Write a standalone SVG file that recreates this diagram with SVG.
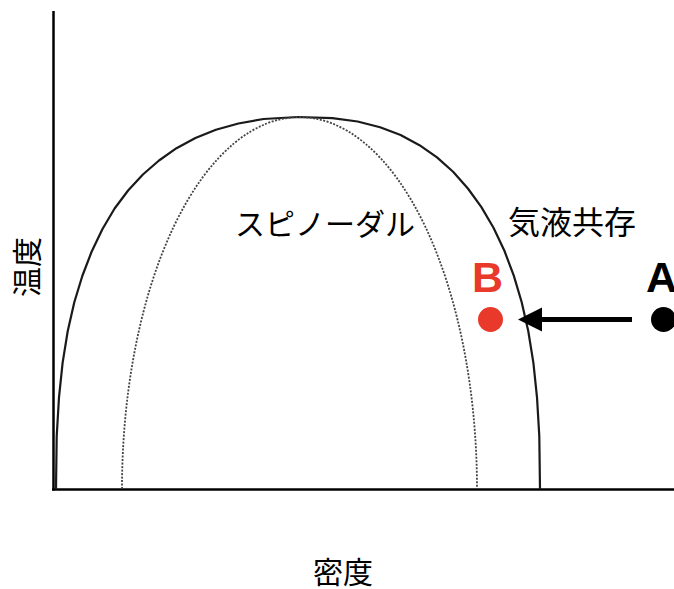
<svg xmlns="http://www.w3.org/2000/svg" width="674" height="589" viewBox="0 0 674 589">
<style>
.axis{stroke:#000;stroke-width:2.5;fill:none}
.binodal{stroke:#1a1a1a;stroke-width:2.2;fill:none;stroke-linejoin:round}
.spinodal{stroke:#444;stroke-width:1.8;fill:none;stroke-dasharray:2 1.5}
.jp{font-family:"Noto Sans CJK JP","Noto Sans",sans-serif;font-size:30px;fill:#000}
.lbl{font-family:"Liberation Sans",Arial,sans-serif;font-weight:bold;font-size:43px}
</style>
<defs>
<marker id="ah" viewBox="0 0 10 10" refX="0" refY="5" markerWidth="4.8" markerHeight="5" markerUnits="strokeWidth" orient="auto">
<path d="M10,5 L0,0 L0,10 Z" fill="#000"/>
</marker>
</defs>
<g id="axes">
<line class="axis" x1="53.5" y1="11" x2="53.5" y2="490.5"/>
<line class="axis" x1="52" y1="489.5" x2="674" y2="489.5"/>
</g>
<g id="binodal">
<path class="binodal" d="M56,489 L56.7,436.2 L59,397.3 L62.6,362.9 L67.7,331.3 L74.3,302.3 L82.3,276 L91.7,251.5 L102.5,229 L114.6,208.5 L128.1,190.5 L142.9,174.5 L159,160.5 L176.5,148.2 L195.4,138 L215.9,129.8 L238.4,123.5 L263.6,119 L298,117 L332.4,118.1 L357.6,121.5 L380.1,127.2 L400.6,135 L419.5,145.2 L437,157.4 L453.1,171.8 L467.9,188.5 L481.4,207.1 L493.5,227.8 L504.3,250.5 L513.7,275.4 L521.7,302.3 L528.3,331.3 L533.4,362.9 L537,397.3 L539.3,436.2 L540,489"/>
</g>
<g id="spinodal">
<path class="spinodal" d="M122,489 A177.5,372 0 0 1 477,489"/>
</g>
<g id="label-spinodal">
<text class="jp" x="235" y="235">スピノーダル</text>
</g>
<g id="label-coexist">
<text class="jp" x="508" y="234" style="font-size:32px">気液共存</text>
</g>
<g id="axis-x-label">
<text class="jp" x="313" y="583">密度</text>
</g>
<g id="axis-y-label">
<text class="jp" text-anchor="middle" transform="translate(37.5,267) rotate(-90)" x="0" y="0">温度</text>
</g>
<g id="point-B">
<circle cx="490.5" cy="319.5" r="12.5" fill="#e8392a"/>
<text class="lbl" x="472" y="292" fill="#e8392a">B</text>
</g>
<g id="point-A">
<circle cx="663.5" cy="319.5" r="12.5" fill="#000"/>
<text class="lbl" x="646" y="292" fill="#000">A</text>
</g>
<g id="connectors">
<line x1="632" y1="319.5" x2="542" y2="319.5" stroke="#000" stroke-width="5" marker-end="url(#ah)"/>
</g>
</svg>
